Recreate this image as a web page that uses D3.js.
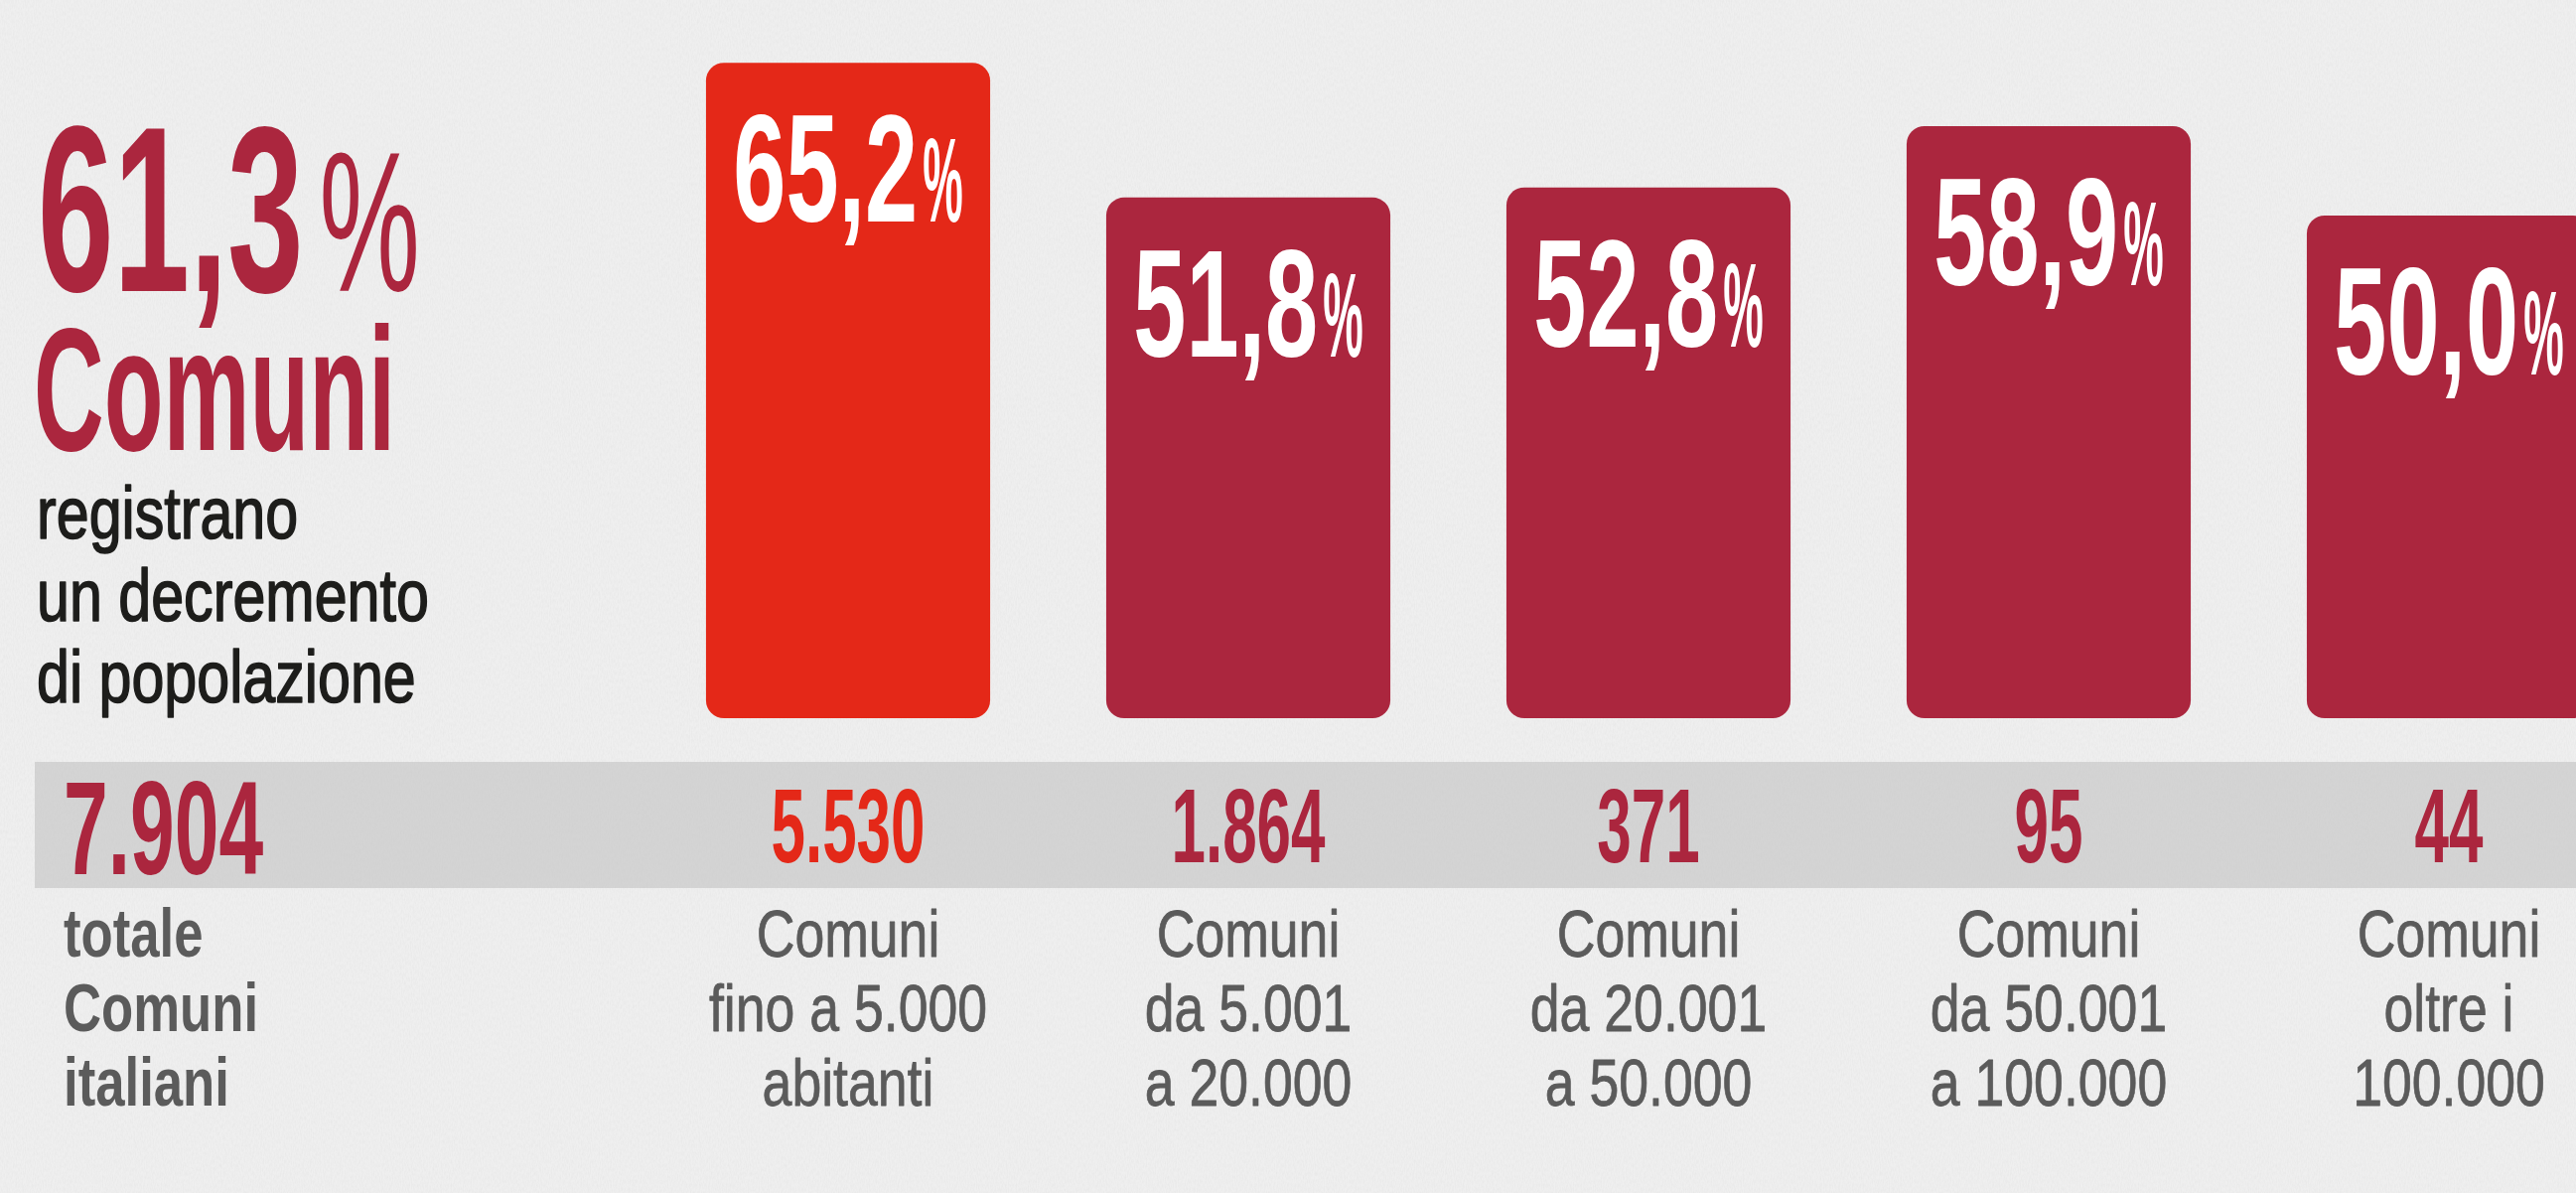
<!DOCTYPE html>
<html lang="it">
<head>
<meta charset="utf-8">
<script src="https://cdn.jsdelivr.net/npm/d3@7"></script>
<style>
  html, body { margin: 0; padding: 0; background: #efefef; overflow: hidden; }
  svg { display: block; }
  text { font-family: "Liberation Sans Narrow", "Liberation Sans", Arial, sans-serif; }
</style>
</head>
<body>
<svg id="chart" width="2594" height="1201"></svg>
<script>
// ---------------- DATA ----------------
const overallShare = 61.3;
const totalComuni = 7904;
const headlineWord = "Comuni";
const headlineLines = ["registrano", "un decremento", "di popolazione"];
const totalLines = ["totale", "Comuni", "italiani"];

const classes = ["fino a 5.000", "5.001-20.000", "20.001-50.000", "50.001-100.000", "oltre 100.000"];
const shareDecline = [65.2, 51.8, 52.8, 58.9, 50.0];
const comuniCount = [5530, 1864, 371, 95, 44];
const classLabels = [
  ["Comuni", "fino a 5.000", "abitanti"],
  ["Comuni", "da 5.001", "a 20.000"],
  ["Comuni", "da 20.001", "a 50.000"],
  ["Comuni", "da 50.001", "a 100.000"],
  ["Comuni", "oltre i", "100.000"]
];

// ---------------- SETUP ----------------
const W = 2594, H = 1201;
const CRIMSON = "#ab263e", RED = "#e42818", DARK = "#1d1d1b", GREY = "#5b5b5b";
const it = d3.formatLocale({decimal: ",", thousands: ".", grouping: [3], currency: ["", ""]});
const fmtPct = it.format(".1f");
const fmtInt = it.format(",d");

const svg = d3.select("#chart");

// paper texture
const defs = svg.append("defs");
const f = defs.append("filter").attr("id", "paper").attr("x", 0).attr("y", 0).attr("width", "100%").attr("height", "100%");
f.append("feTurbulence").attr("type", "fractalNoise").attr("baseFrequency", "0.9 0.25").attr("numOctaves", 3).attr("seed", 7).attr("result", "n");
f.append("feColorMatrix").attr("type", "matrix")
  .attr("values", "0 0 0 0 0.45  0 0 0 0 0.45  0 0 0 0 0.45  0 0 0 -1.1 0.75");

svg.append("rect").attr("width", W).attr("height", H).attr("fill", "#efefef");
svg.append("rect").attr("width", W).attr("height", H).attr("filter", "url(#paper)").attr("opacity", 0.16);

// scales
const x = d3.scaleBand().domain(classes).range([652.5, 2667.5]).paddingInner(0.29).paddingOuter(0.145);
const y = d3.scaleLinear().domain([0, 100]).range([723, 723 - 1012]);

function txt(sel, o) {
  const t = sel.append("text")
    .attr("transform", `translate(${o.x},${o.y}) scale(${o.sx},1)`)
    .attr("text-anchor", o.anchor || "start")
    .attr("font-size", o.size)
    .attr("font-weight", o.weight || 400)
    .attr("fill", o.fill)
    .text(o.text);
  if (o.stroke) t.attr("stroke", o.fill).attr("stroke-width", o.stroke).attr("stroke-linejoin", "round");
  return t;
}

// grey band
svg.append("rect").attr("x", 35).attr("y", 767).attr("width", W - 35).attr("height", 127).attr("fill", "#d4d4d4");
svg.append("rect").attr("x", 35).attr("y", 767).attr("width", W - 35).attr("height", 127)
  .attr("filter", "url(#paper)").attr("opacity", 0.12);

// ---------------- LEFT BLOCK ----------------
const left = svg.append("g");
const hn = txt(left, {x: 38, y: 293, text: fmtPct(overallShare), size: 237, weight: 700, fill: CRIMSON, sx: 0.58});
const hw = hn.node().getComputedTextLength() * 0.58;
txt(left, {x: 38 + hw + 16, y: 293, text: "%", size: 200, weight: 400, fill: CRIMSON, sx: 0.57});
txt(left, {x: 34, y: 453, text: headlineWord, size: 176, weight: 700, fill: CRIMSON, sx: 0.556});
headlineLines.forEach((t, i) => txt(left, {x: 37, y: 542 + i * 82.5, text: t, size: 74, weight: 400, fill: DARK, sx: 0.8, stroke: 1.6}));
txt(left, {x: 64, y: 880, text: fmtInt(totalComuni), size: 134, weight: 700, fill: CRIMSON, sx: 0.6});
totalLines.forEach((t, i) => txt(left, {x: 64, y: 963 + i * 75, text: t, size: 68, weight: 700, fill: GREY, sx: 0.775}));

// ---------------- BARS ----------------
const color = (d, i) => i === 0 ? RED : CRIMSON;
const g = svg.append("g");
g.selectAll("rect.bar").data(shareDecline).join("rect")
  .attr("class", "bar")
  .attr("x", (d, i) => x(classes[i]))
  .attr("y", d => y(d))
  .attr("width", x.bandwidth())
  .attr("height", d => y(0) - y(d))
  .attr("rx", 18).attr("ry", 18)
  .attr("fill", color);

// value labels inside bars
shareDecline.forEach((d, i) => {
  const cx = x(classes[i]) + x.bandwidth() / 2;
  const lg = g.append("g");
  const n = txt(lg, {x: 0, y: 0, text: fmtPct(d), size: 154, weight: 700, fill: "#fff", sx: 0.62});
  const nw = n.node().getComputedTextLength() * 0.62;
  const p = txt(lg, {x: nw + 5, y: 0, text: "%", size: 120, weight: 700, fill: "#fff", sx: 0.38});
  const pw = p.node().getComputedTextLength() * 0.38;
  const total = nw + 5 + pw;
  lg.attr("transform", `translate(${cx - total / 2},${y(d) + 160})`);
});

// counts in band
comuniCount.forEach((c, i) => {
  const cx = x(classes[i]) + x.bandwidth() / 2;
  txt(g, {x: cx, y: 868, text: fmtInt(c), size: 105, weight: 700, fill: color(c, i), sx: 0.59, anchor: "middle"});
  classLabels[i].forEach((t, j) => txt(g, {x: cx, y: 963 + j * 75, text: t, size: 67, weight: 400, fill: GREY, sx: 0.8, anchor: "middle", stroke: 0.8}));
});
</script>
</body>
</html>
